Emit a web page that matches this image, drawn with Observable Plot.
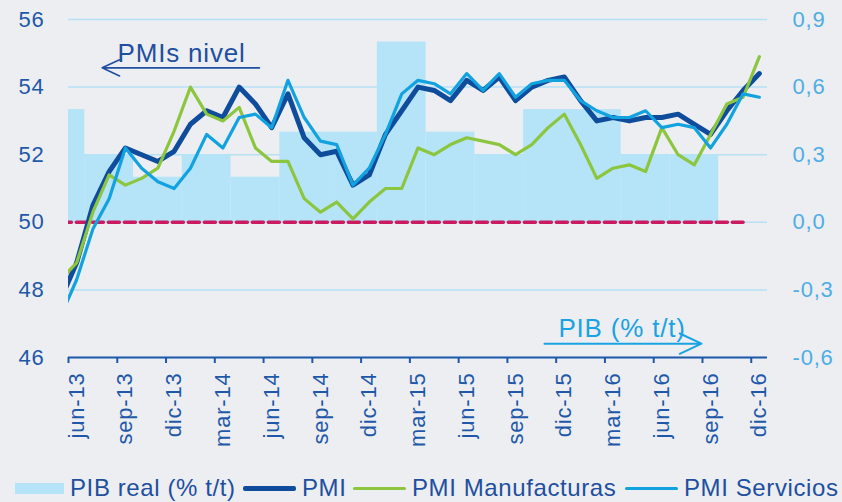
<!DOCTYPE html>
<html>
<head>
<meta charset="utf-8">
<script src="https://cdn.jsdelivr.net/npm/d3@7"></script>
<script src="https://cdn.jsdelivr.net/npm/@observablehq/plot@0.6"></script>
<style>
  body { margin: 0; background: #eceef1; font-family: "Liberation Sans", Arial, sans-serif; }
  #wrap { position: relative; width: 842px; height: 502px; overflow: hidden; background: #eceef1; }
  #chart svg { display: block; }
  #chart svg text { letter-spacing: 0.8px; }
  #legend { position: absolute; left: 0; top: 0; width: 842px; height: 502px; pointer-events: none; }
  .item { position: absolute; top: 474px; height: 28px; display: flex; align-items: center; white-space: nowrap;
          color: #1f4f9f; font-size: 24px; letter-spacing: 0.6px; }
  .item .sw { display: inline-block; margin-right: 6px; }
</style>
</head>
<body>
<div id="wrap"><div id="chart"></div><div id="legend"></div></div>
<script>
// ---- data ----
const months = ["may-13","jun-13","jul-13","ago-13","sep-13","oct-13","nov-13","dic-13",
  "ene-14","feb-14","mar-14","abr-14","may-14","jun-14","jul-14","ago-14","sep-14","oct-14","nov-14","dic-14",
  "ene-15","feb-15","mar-15","abr-15","may-15","jun-15","jul-15","ago-15","sep-15","oct-15","nov-15","dic-15",
  "ene-16","feb-16","mar-16","abr-16","may-16","jun-16","jul-16","ago-16","sep-16","oct-16","nov-16","dic-16"];
const pmi = [47.7,48.8,50.5,51.5,52.2,52.0,51.8,52.1,
  52.9,53.3,53.1,54.0,53.5,52.8,53.8,52.5,52.0,52.1,51.1,51.4,
  52.6,53.3,54.0,53.9,53.6,54.2,53.9,54.3,53.6,54.0,54.2,54.3,
  53.6,53.0,53.1,53.0,53.1,53.1,53.2,52.9,52.6,53.3,53.9,54.4];
const pmiManuf = [48.3,48.8,50.3,51.4,51.1,51.3,51.6,52.7,
  54.0,53.2,53.0,53.4,52.2,51.8,51.8,50.7,50.3,50.6,50.1,50.6,
  51.0,51.0,52.2,52.0,52.3,52.5,52.4,52.3,52.0,52.3,52.8,53.2,
  52.3,51.3,51.6,51.7,51.5,52.8,52.0,51.7,52.6,53.5,53.7,54.9];
const pmiServ = [47.2,48.3,49.8,50.7,52.2,51.6,51.2,51.0,
  51.6,52.6,52.2,53.1,53.2,52.8,54.2,53.1,52.4,52.3,51.1,51.6,
  52.6,53.8,54.2,54.1,53.8,54.4,53.9,54.4,53.7,54.1,54.2,54.2,
  53.6,53.3,53.1,53.1,53.3,52.8,52.9,52.8,52.2,52.9,53.8,53.7];
const gdpQuarterEnd = ["jun-13","sep-13","dic-13","mar-14","jun-14","sep-14","dic-14",
  "mar-15","jun-15","sep-15","dic-15","mar-16","jun-16","sep-16"];
const gdp = [0.5,0.3,0.2,0.3,0.2,0.4,0.4,0.8,0.4,0.3,0.5,0.5,0.3,0.3];
const tickLabels = ["jun-13","sep-13","dic-13","mar-14","jun-14","sep-14","dic-14","mar-15",
  "jun-15","sep-15","dic-15","mar-16","jun-16","sep-16","dic-16"];
const yTicks = [46,48,50,52,54,56];
const threshold = 50;          // PMI 50 = GDP 0,0
const gdpPerPmiPoint = 0.15;   // right axis: (PMI - 50) * 0.15
const refLine = ["may-13","nov-16"];
const firstMonth = "jun-13", lastMonth = "dic-16";
const notes = [
  {text: "PMIs nivel", tx: "ago-13", dx: 0.52, ty: 54.74, from: ["may-14", 0.25], to: ["jul-13", 0.57], ay: 54.57, color: "#1f4f9f", w: 1.6},
  {text: "PIB (% t/t)", tx: "nov-15", dx: 0.64, ty: 46.6, from: ["oct-15", 0.78], to: ["ago-16", 0.44], ay: 46.41, color: "#1aa3e3", w: 2}
];

// ---- derived tables ----
const idx = m => months.indexOf(m);
const toLeft = r => threshold + r / gdpPerPmiPoint;
const series = [
  {name: "PMI", values: pmi, color: "#0f4c9c", width: 5},
  {name: "PMI Manufacturas", values: pmiManuf, color: "#8cc63f", width: 3.2},
  {name: "PMI Servicios", values: pmiServ, color: "#12a2e0", width: 3.2}
];
const bars = gdpQuarterEnd.map((q, k) => ({x1: idx(q) - 2.5, x2: idx(q) + 0.5, y1: threshold, y2: toLeft(gdp[k])}));
const refData = months.slice(idx(refLine[0]), idx(refLine[1]) + 1).map(m => ({i: idx(m), v: threshold}));

const textColor = "#1f58a8";
const marks = [
  Plot.ruleY(yTicks, {stroke: "#b6e1f5", strokeWidth: 1.5}),
  Plot.rect(bars, {x1: "x1", x2: "x2", y1: "y1", y2: "y2", fill: "#b5e3f7", clip: true}),
  Plot.line(refData, {x: "i", y: "v", stroke: "#cc1a60", strokeWidth: 3.5, strokeDasharray: "11,5", clip: true}),
];
for (const s of series) {
  marks.push(Plot.line(months.map((m, i) => ({i, v: s.values[i]})),
    {x: "i", y: "v", stroke: s.color, strokeWidth: s.width, strokeLinejoin: "round", clip: true}));
}
marks.push(
  Plot.ruleY([yTicks[0]], {stroke: textColor, strokeWidth: 2}),
  Plot.axisX(tickLabels.map(m => idx(m) - 0.5), {tickSize: 6, tickFormat: () => "", color: textColor, strokeWidth: 2}),
  Plot.axisX(tickLabels.map(idx), {tickSize: 0, tickPadding: 15, tickRotate: -90, tickFormat: i => months[i],
    fontSize: 22, color: textColor, label: null}),
  Plot.axisY(yTicks, {anchor: "left", tickSize: 0, tickPadding: 24, fontSize: 22, color: textColor, label: null,
    tickFormat: d => String(d)}),
  Plot.axisY(yTicks, {anchor: "right", tickSize: 0, tickPadding: 25, fontSize: 22, color: "#4fade6", label: null,
    tickFormat: d => ((d - threshold) * gdpPerPmiPoint).toFixed(1).replace(".", ",")})
);
for (const n of notes) {
  marks.push(
    Plot.text([n], {x: d => idx(d.tx) + d.dx, y: "ty", text: "text", textAnchor: "start", lineAnchor: "bottom",
      fontSize: 26, fill: n.color}),
    Plot.arrow([n], {x1: d => idx(d.from[0]) + d.from[1], x2: d => idx(d.to[0]) + d.to[1], y1: "ay", y2: "ay",
      bend: 0, headLength: 18, headAngle: 50, stroke: n.color, strokeWidth: n.w})
  );
}

const chart = Plot.plot({
  width: 842, height: 462,
  marginLeft: 68, marginRight: 75, marginTop: 19, marginBottom: 105,
  style: {background: "transparent", fontFamily: "'Liberation Sans', Arial, sans-serif", overflow: "visible"},
  x: {type: "linear", domain: [idx(firstMonth) - 0.5, idx(lastMonth) + 0.5]},
  y: {domain: [yTicks[0], yTicks[yTicks.length - 1]]},
  marks
});
document.getElementById("chart").appendChild(chart);

// ---- legend (HTML, below the svg) ----
const legendItems = [
  {label: "PIB real (% t/t)", left: 15, sw: "rect"},
  {label: "PMI", left: 243, sw: "line", color: "#0f4c9c", h: 5},
  {label: "PMI Manufacturas", left: 353, sw: "line", color: "#8cc63f", h: 3},
  {label: "PMI Servicios", left: 625, sw: "line", color: "#12a2e0", h: 3}
];
const leg = document.getElementById("legend");
for (const it of legendItems) {
  const d = document.createElement("div");
  d.className = "item";
  d.style.left = it.left + "px";
  const sw = document.createElement("span");
  sw.className = "sw";
  if (it.sw === "rect") { sw.style.width = "49px"; sw.style.height = "11px"; sw.style.background = "#b5e3f7"; }
  else { sw.style.width = "53px"; sw.style.height = it.h + "px"; sw.style.background = it.color; sw.style.borderRadius = "2px"; }
  d.appendChild(sw);
  const t = document.createElement("span");
  t.textContent = it.label;
  d.appendChild(t);
  leg.appendChild(d);
}
</script>
</body>
</html>
